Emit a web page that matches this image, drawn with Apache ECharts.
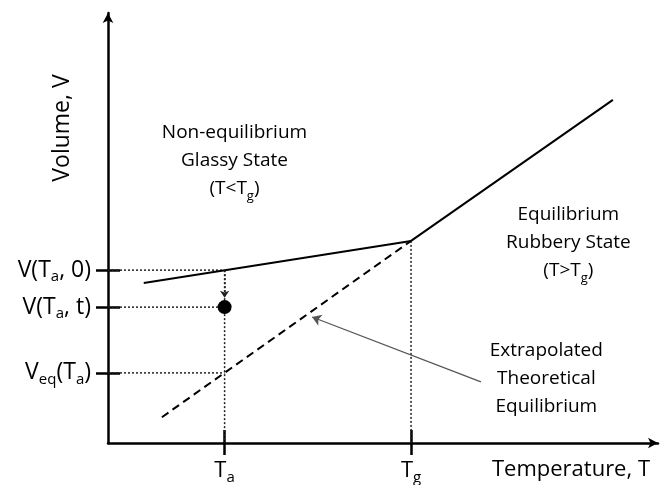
<!DOCTYPE html>
<html>
<head>
<meta charset="utf-8">
<script src="https://cdn.jsdelivr.net/npm/echarts@6/dist/echarts.min.js"></script>
<style>
  html, body { margin: 0; padding: 0; background: #fff; }
  #chart { width: 662px; height: 485px; }
</style>
</head>
<body>
<div id="chart"></div>
<script>
// temperature ticks: Ta, Tg
const tempTicks = [21.2, 55.1];
const tempLabels = ["T{s|a}", "T{s|g}"];
// volume ticks: Veq(Ta), V(Ta,t), V(Ta,0)
const volTicks = [16.3, 31.6, 40.2];
const volLabels = ["V{s|eq}(T{s|a})", "V(T{s|a}, t)", "V(T{s|a}, 0)"];

const glassyLine = [[6.5, 37.2], [55.1, 47.0]];
const rubberyLine = [[55.1, 47.0], [91.8, 79.8]];
const extrapolatedLine = [[9.8, 6.0], [55.1, 47.0]];
const agedPoint = [[21.2, 31.6]];
const pointerFrom = [67.8, 14.2];
const pointerTo = [37.1, 29.3];

const regionText = [
  { pos: [23.0, 65.6], text: "Non-equilibrium\nGlassy State\n(T<T{s|g})" },
  { pos: [83.7, 46.5], text: "Equilibrium\nRubbery State\n(T>T{s|g})" },
  { pos: [79.7, 14.9], text: "Extrapolated\nTheoretical\nEquilibrium" },
];

const FONT = "Open Sans";
const ink = "#000";
const dotted = { color: "#222", width: 1.5, type: [2, 2] };

const subRich = {
  s: { fontFamily: FONT, fontSize: 15, color: ink, padding: [14, 0, 0, 0], verticalAlign: "bottom" },
};

function guideLines() {
  // dotted projections from the ticks to the curves
  const lines = [];
  const [ta, tg] = tempTicks;
  volTicks.forEach((v) => lines.push([[0, v], [ta, v]]));
  lines.push([[ta, volTicks[2]], [ta, 0]]);
  lines.push([[tg, glassyLine[1][1]], [tg, 0]]);
  return lines.map((pts) => ({
    type: "line",
    data: pts,
    symbol: "none",
    lineStyle: dotted,
    z: 1,
  }));
}

const chart = echarts.init(document.getElementById("chart"));

const axisLineStyle = { color: "#000", width: 2.5 };

chart.setOption({
  animation: false,
  backgroundColor: "#fff",
  grid: { left: 108, right: 4, top: 13, bottom: 42 },
  xAxis: [
    {
      type: "value", min: 0, max: 100,
      axisLine: { show: true, symbol: ["none", "arrow"], symbolSize: [8, 10], lineStyle: axisLineStyle },
      axisTick: { show: true, customValues: tempTicks, length: 12, lineStyle: axisLineStyle },
      axisLabel: {
        customValues: tempTicks, margin: 13,
        formatter: (v) => tempLabels[tempTicks.indexOf(v)],
        fontFamily: FONT, fontSize: 22, color: ink, rich: subRich,
      },
      splitLine: { show: false },
      name: "Temperature, T",
      nameLocation: "end",
      nameGap: -8,
      nameTextStyle: { fontFamily: FONT, fontSize: 22, color: ink, align: "right", verticalAlign: "top", padding: [16, 0, 0, 0] },
    },
    {
      type: "value", min: 0, max: 100, position: "bottom",
      axisLine: { show: false },
      axisTick: { show: true, inside: true, customValues: tempTicks, length: 13, lineStyle: axisLineStyle },
      axisLabel: { show: false },
      splitLine: { show: false },
    },
  ],
  yAxis: [
    {
      type: "value", min: 0, max: 100, position: "left",
      axisLine: { show: true, symbol: ["none", "arrow"], symbolSize: [8, 10], lineStyle: axisLineStyle },
      axisTick: { show: true, customValues: volTicks, length: 12, lineStyle: axisLineStyle },
      axisLabel: {
        customValues: volTicks, margin: 17,
        formatter: (v) => volLabels[volTicks.indexOf(v)],
        fontFamily: FONT, fontSize: 23, color: ink, rich: subRich,
      },
      splitLine: { show: false },
    },
    {
      type: "value", min: 0, max: 100, position: "left",
      axisLine: { show: false },
      axisTick: { show: true, inside: true, customValues: volTicks, length: 12, lineStyle: axisLineStyle },
      axisLabel: { show: false },
      splitLine: { show: false },
    },
  ],
  graphic: [
    {
      type: "text", x: 62, y: 128, rotation: Math.PI / 2,
      style: { text: "Volume, V", fontFamily: FONT, fontSize: 23, fill: ink, align: "center", verticalAlign: "middle" },
    },
  ],
  series: [
    ...guideLines(),
    {
      type: "line", data: glassyLine, symbol: "none",
      lineStyle: { color: "#000", width: 2 }, z: 3,
    },
    {
      type: "line", data: rubberyLine, symbol: "none",
      lineStyle: { color: "#000", width: 2 }, z: 3,
    },
    {
      type: "line", data: extrapolatedLine, symbol: "none",
      lineStyle: { color: "#000", width: 2, type: [8, 5] }, z: 3,
      markLine: {
        silent: true, symbol: ["none", "arrow"], symbolSize: 9,
        label: { show: false },
        lineStyle: { color: "#555", width: 1.3, type: "solid" },
        data: [[{ coord: pointerFrom }, { coord: pointerTo }]],
      },
    },
    {
      type: "line", data: [[tempTicks[0], volTicks[2]], [tempTicks[0], volTicks[1]]], symbol: "none",
      lineStyle: { width: 0 },
      markLine: {
        silent: true, symbol: ["none", "arrow"], symbolSize: 7,
        label: { show: false },
        lineStyle: { color: "#222", width: 1.5, type: [2, 2] },
        data: [[{ coord: [tempTicks[0], volTicks[2]] }, { coord: [tempTicks[0], volTicks[1] + 2.2] }]],
      },
    },
    {
      type: "scatter", data: agedPoint, symbolSize: 14,
      itemStyle: { color: "#000", opacity: 1 }, z: 5,
    },
    {
      type: "scatter",
      data: regionText.map((r) => ({ value: r.pos, label: { formatter: r.text } })),
      symbolSize: 0,
      itemStyle: { opacity: 1 },
      label: {
        show: true, position: "inside", align: "center", verticalAlign: "middle",
        fontFamily: FONT, fontSize: 19, lineHeight: 28, color: ink,
        textBorderWidth: 0,
        rich: { s: { fontFamily: FONT, fontSize: 13, color: ink, padding: [12, 0, 0, 0], verticalAlign: "bottom", textBorderWidth: 0 } },
      },
    },
  ],
});
</script>
</body>
</html>
